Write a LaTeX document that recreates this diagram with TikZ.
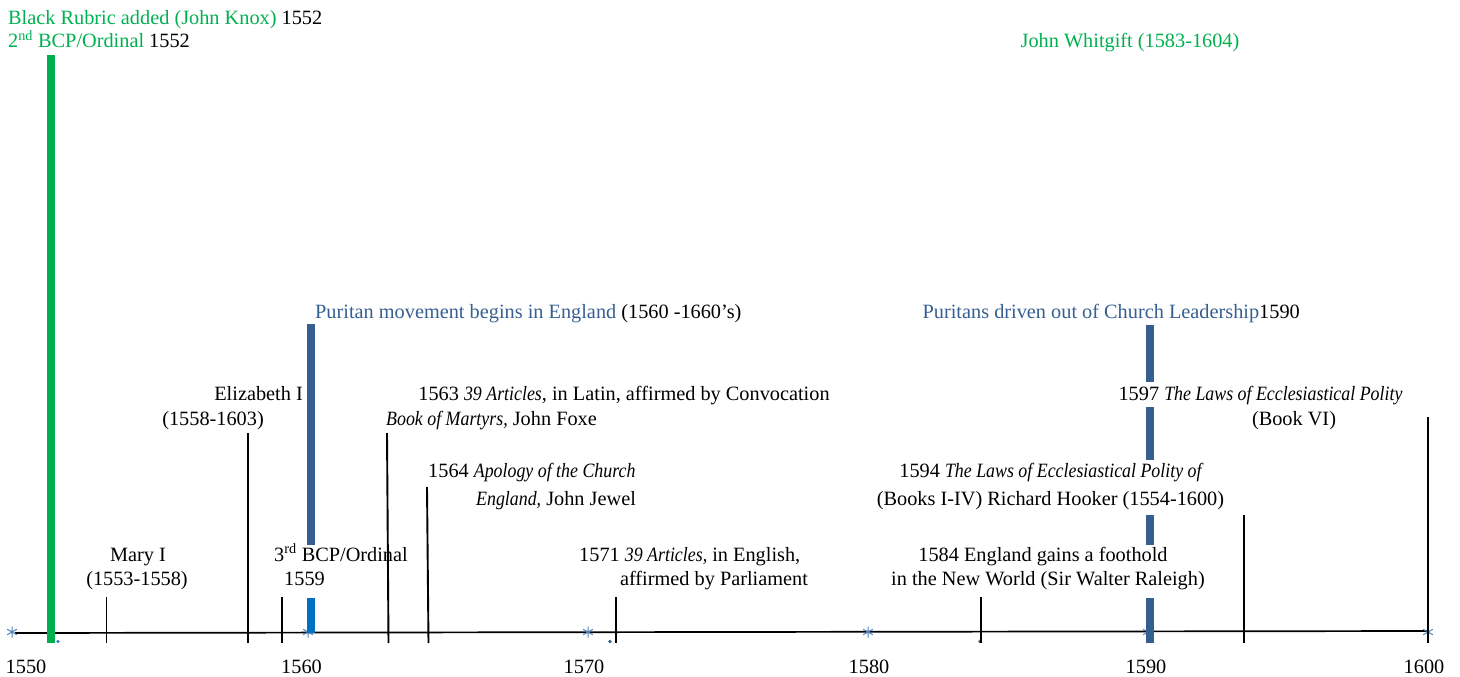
\documentclass[tikz,border=0pt]{standalone}
\usepackage{fontspec}
\setmainfont{Liberation Serif}[ItalicFeatures={FakeStretch=0.88}]
\definecolor{rubricgreen}{HTML}{00B050}
\definecolor{puritanblue}{HTML}{365F91}
\definecolor{brightblue}{HTML}{0070C0}
\definecolor{starblue}{HTML}{4F81BD}
\begin{document}
\begin{tikzpicture}[x=1pt,y=-1pt,
  lbl/.style={inner sep=0pt,font=\fontsize{20.3}{24}\selectfont},
  tickline/.style={line width=1.9pt,black},
  axisline/.style={line width=1.7pt,black},
  barline/.style={line width=8pt},
  greenbar/.style={barline,rubricgreen},
  bluebar/.style={barline,puritanblue},
  lightbar/.style={barline,brightblue},
  pics/yearstar/.style={code={
    \draw[starblue,line width=1pt] (0,-5.5) -- (0,5.5)
      (-4.8,-2.75) -- (4.8,2.75) (-4.8,2.75) -- (4.8,-2.75);}},
  yeardot/.style={circle,fill=#1,inner sep=0pt,minimum size=3.6pt}]
\path[use as bounding box] (0,0) rectangle (1460,677);

% time axis
\coordinate (axL) at (15,633);
\coordinate (axR) at (1428,631);
\draw[axisline] (axL) -- (axR);

% decade markers
\foreach \x/\y in {12/632,308/632,588/632,868/632,1148/632,1428/632}{
  \pic at (\x,\y) {yearstar};
}
\node[lbl,anchor=base] (y1550) at (26,673) {1550};
\node[lbl,anchor=base] (y1560) at (301.5,673) {1560};
\node[lbl,anchor=base] (y1570) at (584,673) {1570};
\node[lbl,anchor=base] (y1580) at (869,673) {1580};
\node[lbl,anchor=base] (y1590) at (1146,673) {1590};
\node[lbl,anchor=base] (y1600) at (1424,673) {1600};

\node[yeardot=starblue] (d1) at (58,641.5) {};
\node[yeardot=puritanblue] (d2) at (610,641.5) {};
\node[yeardot=puritanblue] (d3) at (980,641.5) {};

% 1552 bar
\coordinate (g1) at (51,55);
\coordinate (g2) at (51,643);
\draw[greenbar] (g1) -- (g2);

% 1560 bar
\coordinate (p1) at (311,324);
\coordinate (p2) at (311,545);
\coordinate (p3) at (310.5,598);
\coordinate (p4) at (310.5,633);
\draw[bluebar] (p1) -- (p2);
\draw[lightbar] (p3) -- (p4);

% 1590 bar
\coordinate (q1) at (1150,325);
\coordinate (q2) at (1150,382);
\coordinate (q3) at (1150,407);
\coordinate (q4) at (1150,460);
\coordinate (q5) at (1150,515);
\coordinate (q6) at (1150,545);
\coordinate (q7) at (1150,598);
\coordinate (q8) at (1150,643);
\draw[bluebar] (q1) -- (q2) (q3) -- (q4) (q5) -- (q6) (q7) -- (q8);

% event ticks
\foreach \n/\xt/\yt/\xb in {mary/106.5/597/106.5, eliz/248/433/248, bcp/282/597/282,
    art/387/433/388.5, apol/427/487/428.5, eng/616/597/616, world/981/597/981,
    hook/1244/515/1244, book/1428/417/1428}{
  \coordinate (\n T) at (\xt,\yt);
  \coordinate (\n B) at (\xb,643);
  \draw[tickline] (\n T) -- (\n B);
}

% labels
\node[lbl,anchor=base west] (rubric) at (8,25) {\textcolor{rubricgreen}{Black Rubric added (John Knox)} 1552};
\node[lbl,anchor=base west] (bcp2) at (8,48) {\textcolor{rubricgreen}{2\textsuperscript{nd} BCP/Ordinal} 1552};
\node[lbl,anchor=base,text=rubricgreen] (whitgift) at (1130,48) {John Whitgift (1583-1604)};
\node[lbl,anchor=base west] (puritan) at (315,318) {\textcolor{puritanblue}{Puritan movement begins in England} (1560 -1660’s)};
\node[lbl,anchor=base east] (driven) at (1300,318) {\textcolor{puritanblue}{Puritans driven out of Church Leadership}1590};

\node[lbl,anchor=base east] (elizA) at (303,400) {Elizabeth I};
\node[lbl,anchor=base east] (elizB) at (264,425) {(1558-1603)};
\node[lbl,anchor=base] (artA) at (624,400) {1563 \textit{39 Articles}, in Latin, affirmed by Convocation};
\node[lbl,anchor=base west] (artB) at (386,425) {\textit{Book of Martyrs,} John Foxe};
\node[lbl,anchor=base west] (apolA) at (428,477) {1564 \textit{Apology of the Church}};
\node[lbl,anchor=base west] (apolB) at (476,505) {\textit{England,} John Jewel};

\node[lbl,anchor=base] (maryA) at (138,561) {Mary I};
\node[lbl,anchor=base] (maryB) at (137,585) {(1553-1558)};
\node[lbl,anchor=base west] (bcp3A) at (274,561) {3\textsuperscript{rd} BCP/Ordinal};
\node[lbl,anchor=base west] (bcp3B) at (284,585) {1559};
\node[lbl,anchor=base west] (engA) at (579,561) {1571 \textit{39 Articles,} in English,};
\node[lbl,anchor=base] (engB) at (714,585) {affirmed by Parliament};
\node[lbl,anchor=base] (worldA) at (1043,561) {1584 England gains a foothold};
\node[lbl,anchor=base] (worldB) at (1048,585) {in the New World (Sir Walter Raleigh)};
\node[lbl,anchor=base] (hookA) at (1051.5,477) {1594 \textit{The Laws of Ecclesiastical Polity of}};
\node[lbl,anchor=base] (hookB) at (1050.5,505) {(Books I-IV) Richard Hooker (1554-1600)};
\node[lbl,anchor=base] (bookA) at (1260.5,400) {1597 \textit{The Laws of Ecclesiastical Polity}};
\node[lbl,anchor=base] (bookB) at (1294,425) {(Book VI)};
\end{tikzpicture}
\end{document}
